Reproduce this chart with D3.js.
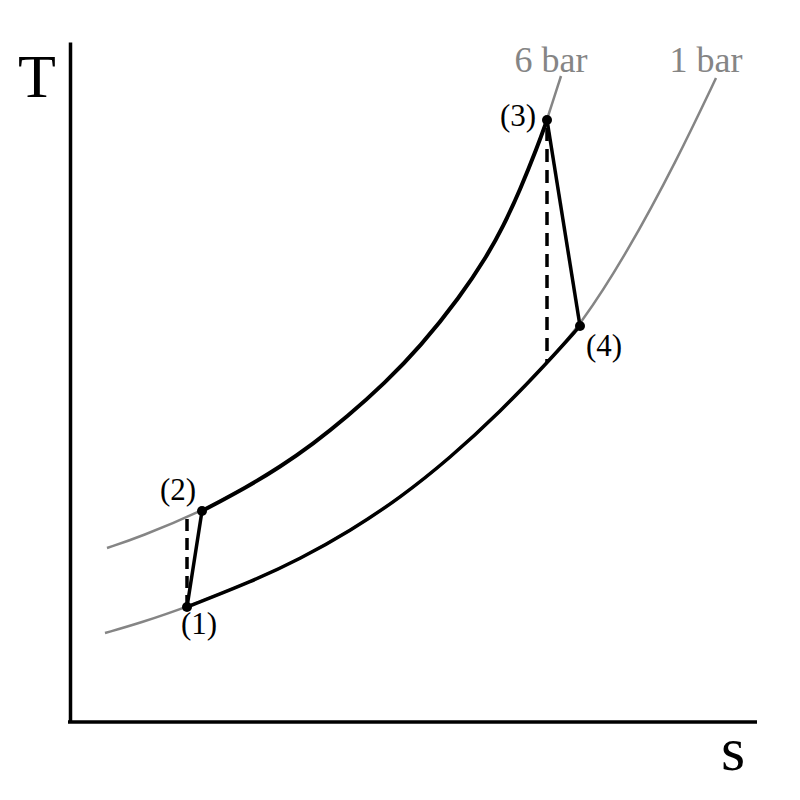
<!DOCTYPE html>
<html>
<head>
<meta charset="utf-8">
<script src="https://cdn.jsdelivr.net/npm/d3@7/dist/d3.min.js"></script>
<style>
  html, body { margin: 0; padding: 0; background: #fff; }
  svg { display: block; }
  text { font-family: "Liberation Serif", "Times New Roman", serif; }
</style>
</head>
<body>
<svg id="chart" width="800" height="800"></svg>
<script>
// ---- data (arbitrary entropy / temperature units) ----
const isobarLabels = ["1 bar", "6 bar"];
const isobar1_s = [0.35, 0.70, 1.17, 1.83, 2.30, 2.80, 3.30, 3.80, 4.30, 4.77, 5.10, 5.57, 6.07, 6.46];
const isobar1_T = [0.89, 0.99, 1.15, 1.41, 1.63, 1.91, 2.24, 2.64, 3.10, 3.59, 3.96, 4.69, 5.62, 6.44];
const isobar6_s = [0.37, 0.70, 1.32, 1.77, 2.10, 2.43, 2.77, 3.15, 3.50, 3.90, 4.17, 4.33, 4.50, 4.67, 4.77, 4.91];
const isobar6_T = [1.74, 1.85, 2.11, 2.35, 2.55, 2.78, 3.05, 3.39, 3.75, 4.25, 4.66, 4.95, 5.32, 5.74, 6.02, 6.46];
const stateLabels = ["(1)", "(2)", "(3)", "(4)"];
const state_s = [1.17, 1.32, 4.77, 5.10];
const state_T = [1.15, 2.11, 6.02, 3.96];
// ideal (isentropic) end states 2s and 4s
const ideal_s = [1.17, 4.77];
const ideal_T = [2.05, 3.59];
const axisLabels = ["s", "T"];

// ---- layout ----
const svg = d3.select("#chart");
const x = d3.scaleLinear().domain([0, 6.87]).range([70, 757]);
const y = d3.scaleLinear().domain([0, 6.80]).range([722, 42]);

const zip = (a, b) => a.map((v, i) => [v, b[i]]);
const iso1 = zip(isobar1_s, isobar1_T);
const iso6 = zip(isobar6_s, isobar6_T);
const states = stateLabels.map((l, i) => ({label: l, s: state_s[i], T: state_T[i]}));

const line = d3.line().x(d => x(d[0])).y(d => y(d[1])).curve(d3.curveBasis);

// axes (no ticks)
const xAxis = d3.axisBottom(x).tickValues([]).tickSizeOuter(0);
const yAxis = d3.axisLeft(y).tickValues([]).tickSizeOuter(0);
svg.append("g").attr("transform", `translate(0,${y(0)})`).call(xAxis)
  .select(".domain").attr("stroke", "#000").attr("stroke-width", 3.5)
  .attr("d", `M${x(0) - 2},0H${x(6.87)}`);
svg.append("g").attr("transform", `translate(${x(0)},0)`).call(yAxis)
  .select(".domain").attr("stroke", "#000").attr("stroke-width", 3.5);

// isobars (gray, full)
svg.append("path").datum(iso1).attr("d", line)
  .attr("fill", "none").attr("stroke", "#858585").attr("stroke-width", 2.5);
svg.append("path").datum(iso6).attr("d", line)
  .attr("fill", "none").attr("stroke", "#858585").attr("stroke-width", 2.5);

// cycle heat-transfer parts along isobars (black)
const s1 = states[0].s, s2 = states[1].s, s3 = states[2].s, s4 = states[3].s;
svg.append("path").datum(iso1.filter(d => d[0] >= s1 - 1e-9 && d[0] <= s4 + 1e-9)).attr("d", line)
  .attr("fill", "none").attr("stroke", "#000").attr("stroke-width", 3.5);
svg.append("path").datum(iso6.filter(d => d[0] >= s2 - 1e-9 && d[0] <= s3 + 1e-9)).attr("d", line)
  .attr("fill", "none").attr("stroke", "#000").attr("stroke-width", 4);

// ideal isentropic lines (dashed)
svg.append("line")
  .attr("x1", x(state_s[0])).attr("y1", y(state_T[0]))
  .attr("x2", x(ideal_s[0])).attr("y2", y(ideal_T[0]))
  .attr("stroke", "#000").attr("stroke-width", 3.5).attr("stroke-dasharray", "12,7");
svg.append("line")
  .attr("x1", x(state_s[2])).attr("y1", y(state_T[2]) + 8)
  .attr("x2", x(ideal_s[1])).attr("y2", y(ideal_T[1]))
  .attr("stroke", "#000").attr("stroke-width", 3.5).attr("stroke-dasharray", "13,8");

// actual compression / expansion (solid)
const straight = d3.line().x(d => x(d.s)).y(d => y(d.T));
svg.append("path").datum([states[0], states[1]]).attr("d", straight)
  .attr("fill", "none").attr("stroke", "#000").attr("stroke-width", 3.5);
svg.append("path").datum([states[2], states[3]]).attr("d", straight)
  .attr("fill", "none").attr("stroke", "#000").attr("stroke-width", 3.5);

// state points
svg.selectAll("circle.state").data(states).enter().append("circle")
  .attr("class", "state")
  .attr("cx", d => x(d.s)).attr("cy", d => y(d.T)).attr("r", 5).attr("fill", "#000");

// state labels
const labelOffsets = [[12, 27], [-24, -11], [-29, 6], [24, 30]];
svg.selectAll("text.state").data(states).enter().append("text")
  .attr("class", "state")
  .attr("x", (d, i) => x(d.s) + labelOffsets[i][0])
  .attr("y", (d, i) => y(d.T) + labelOffsets[i][1])
  .attr("text-anchor", "middle").attr("font-size", 31).attr("fill", "#000")
  .text(d => d.label);

// isobar labels
const isoEnds = [iso1[iso1.length - 1], iso6[iso6.length - 1]];
svg.selectAll("text.iso").data(isobarLabels).enter().append("text")
  .attr("class", "iso")
  .attr("x", (d, i) => x(isoEnds[i][0]) - 10)
  .attr("y", 72)
  .attr("text-anchor", "middle").attr("font-size", 36).attr("fill", "#858585")
  .text(d => d);

// axis labels
svg.append("text").attr("x", 733).attr("y", 770).attr("text-anchor", "middle")
  .attr("font-size", 62).attr("fill", "#000").text(axisLabels[0]);
svg.append("text").attr("x", 37).attr("y", 97).attr("text-anchor", "middle")
  .attr("font-size", 62).attr("fill", "#000").text(axisLabels[1]);
</script>
</body>
</html>
